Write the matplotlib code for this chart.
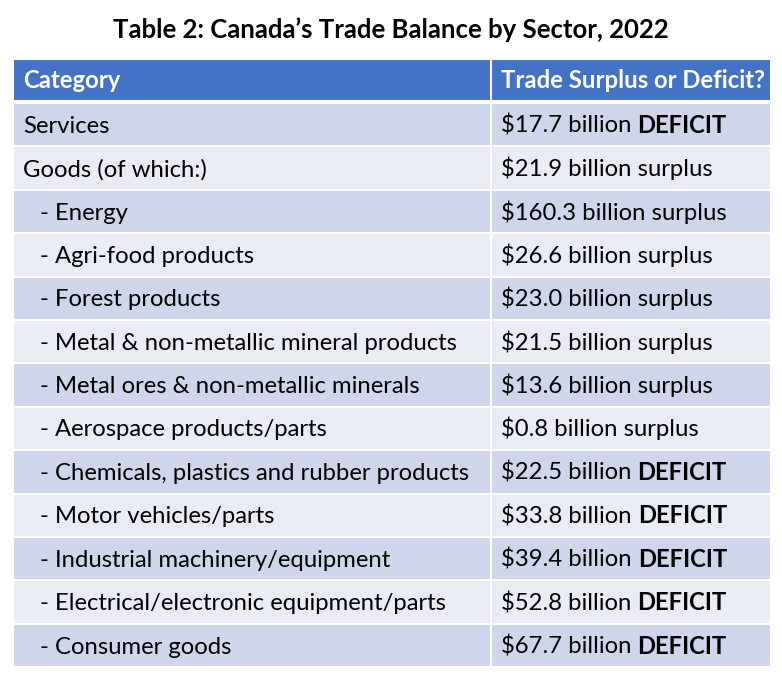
import matplotlib
matplotlib.use("Agg")
import matplotlib.pyplot as plt
from matplotlib.patches import Rectangle

plt.rcParams["font.family"] = ["Lato", "DejaVu Sans"]

title = "Table 2: Canada’s Trade Balance by Sector, 2022"
headers = ["Category", "Trade Surplus or Deficit?"]
categories = [
    "Services",
    "Goods (of which:)",
    "- Energy",
    "- Agri-food products",
    "- Forest products",
    "- Metal & non-metallic mineral products",
    "- Metal ores & non-metallic minerals",
    "- Aerospace products/parts",
    "- Chemicals, plastics and rubber products",
    "- Motor vehicles/parts",
    "- Industrial machinery/equipment",
    "- Electrical/electronic equipment/parts",
    "- Consumer goods",
]
amounts = [17.7, 21.9, 160.3, 26.6, 23.0, 21.5, 13.6, 0.8, 22.5, 33.8, 39.4, 52.8, 67.7]
balance = ["DEFICIT", "surplus", "surplus", "surplus", "surplus", "surplus", "surplus",
           "surplus", "DEFICIT", "DEFICIT", "DEFICIT", "DEFICIT", "DEFICIT"]

W, H = 782, 677
fig = plt.figure(figsize=(W / 100, H / 100), dpi=100)
ax = fig.add_axes([0, 0, 1, 1])
ax.set_xlim(0, W)
ax.set_ylim(H, 0)
ax.axis("off")

# layout in pixels
left, right, split = 13, 771, 491
head_top, head_h = 59, 42
row_h = 43.4
fs = 17.2
header_color = "#4472C4"
row_colors = ["#CFD5EA", "#E9EBF5"]

ax.text(W / 2, 38, title, ha="center", va="baseline", fontsize=18.5, fontweight="bold")

# header
for x0, x1, label in [(left, split, headers[0]), (split, right, headers[1])]:
    ax.add_patch(Rectangle((x0, head_top), x1 - x0, head_h, facecolor=header_color,
                           edgecolor="white", lw=1.5))
    ax.text(x0 + 10, head_top + head_h / 2 + 8, label, ha="left", va="baseline",
            fontsize=fs, fontweight="bold", color="white")

renderer = fig.canvas.get_renderer()
top = head_top + head_h + 2
for i, (cat, amt, kind) in enumerate(zip(categories, amounts, balance)):
    y0 = top + i * row_h
    color = row_colors[i % 2]
    for x0, x1 in [(left, split), (split, right)]:
        ax.add_patch(Rectangle((x0, y0), x1 - x0, row_h, facecolor=color,
                               edgecolor="white", lw=1.5))
    yb = y0 + row_h / 2 + 8
    indent = 27 if cat.startswith("-") else 10
    ax.text(left + indent, yb, cat, ha="left", va="baseline", fontsize=fs)
    if kind == "DEFICIT":
        t = ax.text(split + 10, yb, f"${amt:.1f} billion ", ha="left", va="baseline", fontsize=fs)
        x_end = ax.transData.inverted().transform(
            (t.get_window_extent(renderer).x1, 0))[0]
        ax.text(x_end, yb, kind, ha="left", va="baseline", fontsize=fs, fontweight="bold")
    else:
        ax.text(split + 10, yb, f"${amt:.1f} billion {kind}", ha="left", va="baseline",
                fontsize=fs)

fig.savefig("out.png", dpi=100)
